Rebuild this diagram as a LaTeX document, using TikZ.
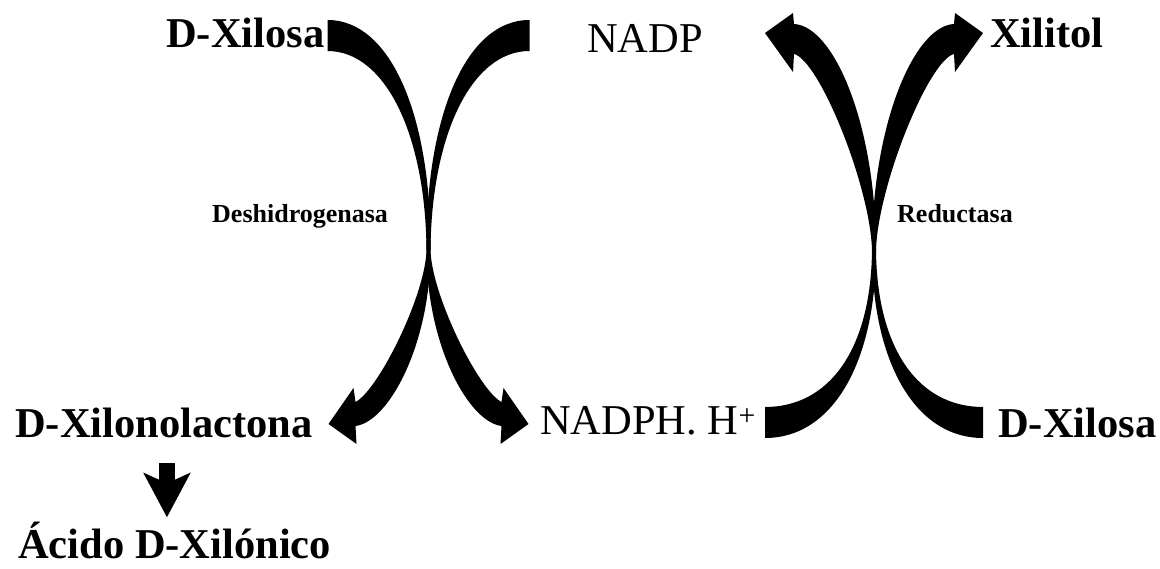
\documentclass[tikz,border=0pt]{standalone}
\usepackage{fontspec}
\setmainfont{Liberation Serif}
\usetikzlibrary{arrows.meta}
\begin{document}
\begin{tikzpicture}[x=1pt,y=-1pt,
  big/.style={font=\fontsize{42.5}{48}\selectfont, inner sep=0pt, anchor=base west},
  bigb/.style={big, font=\fontsize{42.5}{48}\selectfont\bfseries},
  small/.style={font=\fontsize{26}{30}\selectfont\bfseries, inner sep=0pt, anchor=base west},
  band/.style={fill=black, draw=none},
  downarrow/.style={line width=16pt, -{Stealth[length=44pt,width=46pt,inset=10pt]}}
]
\useasboundingbox (0,0) rectangle (1160,569);

% labels
\node[bigb] (xil1) at (166,48) {D-Xilosa};
\node[big] (nadp) at (587,53) {NADP};
\node[bigb] (xilitol) at (990,48) {Xilitol};
\node[bigb] (lac) at (15,438) {D-Xilonolactona};
\node[big] (nadph) at (540,435) {NADPH. H\textsuperscript{+}};
\node[bigb] (xil2) at (998,438) {D-Xilosa};
\node[bigb] (acid) at (18,558) {Ácido D-Xilónico};
\node[small] (deshi) at (212,223) {Deshidrogenasa};
\node[small] (reduc) at (897,223) {Reductasa};

% left cross (Deshidrogenasa)
\foreach \s in {1,-1}{
\begin{scope}[shift={(428.5,250)}, xscale=\s]
  \fill[band] (-101,-230) .. controls (-36,-230) and (3,-130) .. (2,0)
     -- (-2,0) .. controls (-3,-115) and (-43,-199) .. (-101,-199) -- cycle;
  \fill[band] (2,0) .. controls (2,95) and (-40,172) .. (-73,176)
     -- (-72,194) -- (-100,174) -- (-75,138) -- (-73,152)
     .. controls (-50,140) and (-3,45) .. (-2,0) -- cycle;
\end{scope}
}

% right cross (Reductasa)
\foreach \s in {1,-1}{
\begin{scope}[shift={(874,250)}, xscale=\s]
  \fill[band] (-109,188) .. controls (-40,188) and (2,110) .. (2,0)
     -- (-2,0) .. controls (-3,100) and (-45,157) .. (-109,157) -- cycle;
  \fill[band] (2,0) .. controls (2,-125) and (-40,-224) .. (-80,-226)
     -- (-81,-237) -- (-109,-217) -- (-81,-178) -- (-80,-196)
     .. controls (-55,-190) and (-4,-65) .. (-2,0) -- cycle;
\end{scope}
}

% down arrow
\draw[downarrow, shorten <=24pt, shorten >=4pt] ([xshift=3pt]lac.south) -- ([xshift=3pt]lac.south |- acid.north);
\end{tikzpicture}
\end{document}
